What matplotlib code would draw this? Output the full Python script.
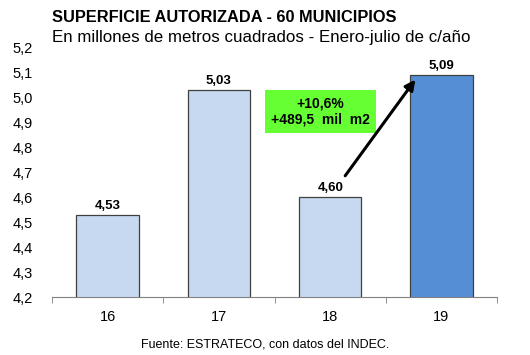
import matplotlib
matplotlib.use("Agg")
import matplotlib.pyplot as plt
from matplotlib.ticker import FixedLocator, FuncFormatter

plt.rcParams['font.family'] = ['Liberation Sans', 'DejaVu Sans']

years = ['16', '17', '18', '19']
values = [4.53, 5.03, 4.60, 5.09]
colors = ['#c6d9f1', '#c6d9f1', '#c6d9f1', '#558ed5']
y_ticks = [4.2, 4.3, 4.4, 4.5, 4.6, 4.7, 4.8, 4.9, 5.0, 5.1, 5.2]

fig = plt.figure(figsize=(5.3, 3.55), dpi=100)
ax = fig.add_axes([0.098, 0.163, 0.840, 0.702])

x = range(len(years))
ax.bar(x, values, width=0.56, color=colors, edgecolor='#404040', linewidth=0.9, zorder=2)
for i, v in enumerate(values):
    ax.text(i, v + 0.012, f'{v:.2f}'.replace('.', ','), ha='center', va='bottom',
            fontsize=9.5, fontweight='bold')

ax.set_xlim(-0.5, len(years) - 0.5)
ax.set_ylim(4.2, 5.2)
ax.yaxis.set_major_locator(FixedLocator(y_ticks))
ax.yaxis.set_major_formatter(FuncFormatter(lambda v, p: f'{v:.1f}'.replace('.', ',')))
ax.set_xticks(list(x))
ax.set_xticklabels(years)
ax.xaxis.set_minor_locator(FixedLocator([i - 0.5 for i in range(len(years) + 1)]))
ax.tick_params(axis='x', which='major', length=0, labelsize=10.5, pad=9)
ax.tick_params(axis='x', which='minor', length=4, color='#808080')
ax.tick_params(axis='y', length=0, labelsize=10.5, pad=14)

for s in ['top', 'right', 'left']:
    ax.spines[s].set_visible(False)
ax.spines['bottom'].set_color('#808080')

# variation box and arrow
ax.text(1.91, 4.945, '+10,6%\n+489,5  mil  m2', ha='center', va='center',
        fontsize=10, fontweight='bold', linespacing=1.15,
        bbox=dict(boxstyle='square,pad=0.45', fc='#66ff33', ec='none'), zorder=3)
ax.annotate('', xy=(2.78, 5.082), xytext=(2.12, 4.678),
            arrowprops=dict(arrowstyle='-|>,head_length=0.6,head_width=0.3', color='black', lw=2.2))

fig.text(0.098, 0.952, 'SUPERFICIE AUTORIZADA - 60 MUNICIPIOS', fontsize=11.8, fontweight='bold',
         ha='left', va='center')
fig.text(0.098, 0.893, 'En millones de metros cuadrados - Enero-julio de c/año', fontsize=12.2,
         ha='left', va='center')
fig.text(0.5, 0.03, 'Fuente: ESTRATECO, con datos del INDEC.', fontsize=9, ha='center', va='center')

fig.savefig('out.png', dpi=100)
